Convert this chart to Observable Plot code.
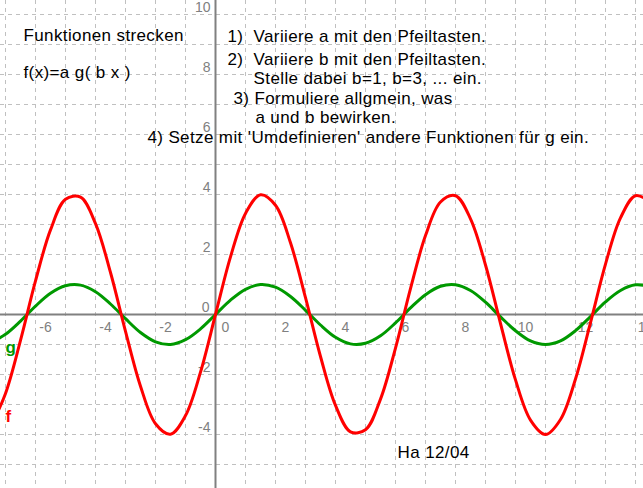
<!DOCTYPE html>
<html>
<head>
<meta charset="utf-8">
<script src="https://cdn.jsdelivr.net/npm/d3@7"></script>
<script src="https://cdn.jsdelivr.net/npm/@observablehq/plot@0.6"></script>
<style>
  html, body { margin: 0; padding: 0; background: #fff; }
  svg { display: block; white-space: pre; }
</style>
</head>
<body>
<div id="chart"></div>
<script>
// Sample positions (x) and values
const xs = [-7.5,-7,-6.5,-6,-5.5,-5,-4.5,-4,-3.5,-3,-2.5,-2,-1.5,-1,-0.5,0,0.5,1,1.5,2,2.5,3,3.5,4,4.5,5,5.5,6,6.5,7,7.5,8,8.5,9,9.5,10,10.5,11,11.5,12,12.5,13,13.5,14,14.5];
const gValues = [-0.94,-0.66,-0.22,0.28,0.71,0.96,0.98,0.76,0.35,-0.14,-0.60,-0.91,-1.00,-0.84,-0.48,0,0.48,0.84,1.00,0.91,0.60,0.14,-0.35,-0.76,-0.98,-0.96,-0.71,-0.28,0.22,0.66,0.94,0.99,0.80,0.41,-0.08,-0.54,-0.88,-1.00,-0.88,-0.54,-0.07,0.42,0.80,0.99,0.93];
const fValues = [-3.75,-2.63,-0.86,1.12,2.82,3.84,3.91,3.03,1.40,-0.56,-2.39,-3.64,-3.99,-3.37,-1.92,0,1.92,3.37,3.99,3.64,2.39,0.56,-1.40,-3.03,-3.91,-3.84,-2.82,-1.12,0.86,2.63,3.75,3.96,3.19,1.65,-0.30,-2.18,-3.52,-4.00,-3.50,-2.15,-0.27,1.68,3.22,3.96,3.74];

const xTickLabels = [-6,-4,-2,0,2,4,6,8,10,12,14];
const yTickLabels = [-4,-2,0,2,4,6,8,10];

const textLines = [
  "Funktionen strecken",
  "f(x)=a g( b x )",
  "1)  Variiere a mit den Pfeiltasten.",
  "2)  Variiere b mit den Pfeiltasten.",
  "Stelle dabei b=1, b=3, ... ein.",
  "3) Formuliere allgmein, was",
  "a und b bewirken.",
  "4) Setze mit 'Umdefinieren' andere Funktionen für g ein.",
  "Ha 12/04"
];
// anchor points of the texts, in axis units
const textX = [-6.4,-6.4,0.4,0.4,1.27,0.6,1.33,-2.27,6.07];
const textY = [9.13,7.9,9.07,8.33,7.67,7.03,6.4,5.73,-4.77];

const curveNames = ["g","f"];
const curveLabelX = [-7.0,-7.0];
const curveLabelY = [-1.27,-3.57];

const gData = xs.map((x,i) => ({x, y: gValues[i]}));
const fData = xs.map((x,i) => ({x, y: fValues[i]}));
const texts = textLines.map((t,i) => ({t, x: textX[i], y: textY[i]}));
const labels = curveNames.map((t,i) => ({t, x: curveLabelX[i], y: curveLabelY[i]}));

const font = "Liberation Sans, Arial, sans-serif";
const gray = "#808080";

const chart = Plot.plot({
  width: 643,
  height: 488,
  margin: 0,
  style: {fontFamily: font, background: "#fff", overflow: "hidden"},
  x: {domain: [-215/30, 428/30], axis: null},
  y: {domain: [-174/30, 314/30], axis: null},
  marks: [
    Plot.gridX({interval: 1, stroke: "#c0c0c0", strokeOpacity: 1, strokeWidth: 1, strokeDasharray: "4,4"}),
    Plot.gridY({interval: 1, stroke: "#c0c0c0", strokeOpacity: 1, strokeWidth: 1, strokeDasharray: "4,4"}),
    Plot.ruleX([0], {stroke: gray, strokeWidth: 2}),
    Plot.ruleY([0], {stroke: gray, strokeWidth: 2}),
    Plot.text(xTickLabels, {x: d => d, y: 0, text: d => String(d), dx: 10, dy: 13, fill: gray, fontSize: 14, textAnchor: "middle"}),
    Plot.text(yTickLabels.filter(d => d !== 0), {x: 0, y: d => d, text: d => String(d), dx: -5, dy: -6.5, fill: gray, fontSize: 14, textAnchor: "end"}),
    Plot.text([0], {x: 0, y: 0, text: d => String(d), dx: -6, dy: -7, fill: gray, fontSize: 14, textAnchor: "end"}),
    Plot.line(gData, {x: "x", y: "y", stroke: "#009900", strokeWidth: 3, curve: "catmull-rom", clip: true}),
    Plot.line(fData, {x: "x", y: "y", stroke: "#ff0000", strokeWidth: 3, curve: "catmull-rom", clip: true}),
    Plot.text(texts, {x: "x", y: "y", text: "t", textAnchor: "start", lineAnchor: "bottom", fontSize: 17, fill: "#000"}),
    Plot.text(labels, {x: "x", y: "y", text: "t", textAnchor: "start", lineAnchor: "bottom", fontSize: 17, fontWeight: "bold", fill: (d) => d.t === "g" ? "#009900" : "#ff0000"})
  ]
});
const lineSet = new Set(textLines);
d3.select(chart).selectAll("text").each(function() {
  if (lineSet.has(this.textContent)) {
    this.setAttribute("letter-spacing", "0.38");
    this.style.letterSpacing = "0.38px";
  }
});
document.getElementById("chart").appendChild(chart);
</script>
</body>
</html>
